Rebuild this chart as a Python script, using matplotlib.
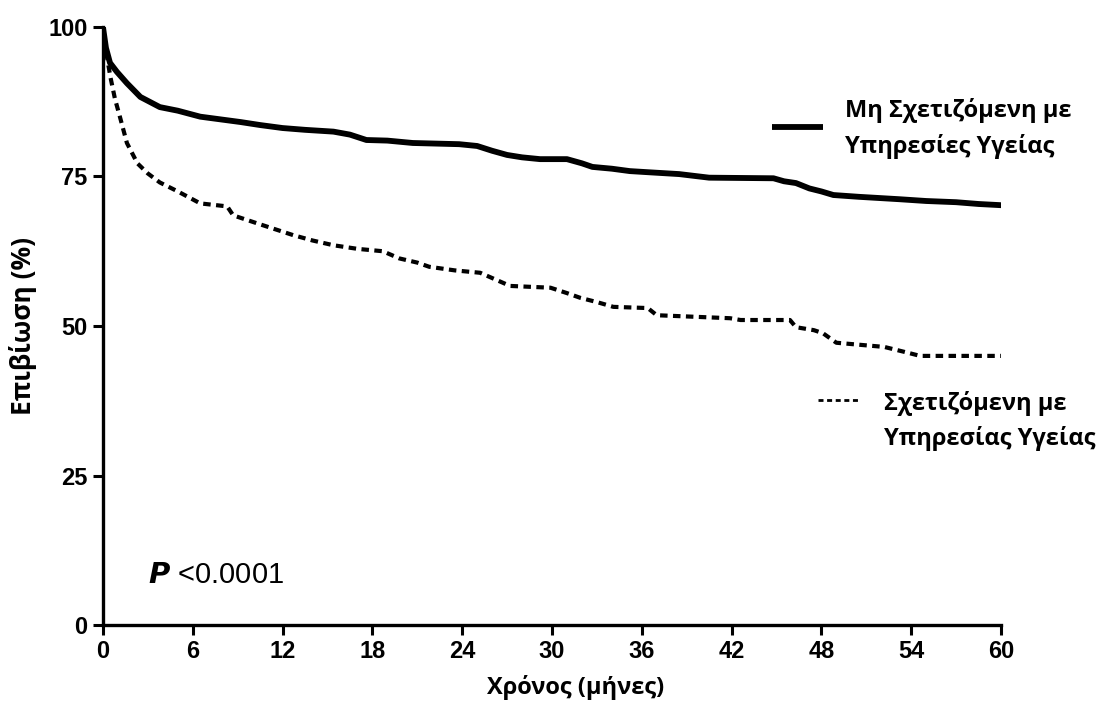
import numpy as np
import matplotlib
matplotlib.use('Agg')
import matplotlib.pyplot as plt

# χρόνος (μήνες) και επιβίωση (%) - διαβασμένα από την εικόνα
t_non = [0, 0.2, 0.47, 0.93, 1.6, 2.5, 3.8, 5.0, 6.5, 8.0, 9.2, 10.5, 12, 13.5, 15.4,
         16.5, 17.6, 19.0, 20.7, 23.8, 25, 26, 27, 28, 29.2, 31, 32, 32.7, 34, 35.2,
         36.5, 38.5, 39.5, 40.5, 44.8, 45.5, 46.3, 47.2, 48, 48.8, 50.5, 53.2, 55, 57, 58.5, 60]
s_non = [100, 96.5, 94, 92.5, 90.6, 88.3, 86.6, 86.0, 85, 84.5, 84.1, 83.6, 83.1, 82.8, 82.5,
         82.0, 81.1, 81.0, 80.6, 80.4, 80.1, 79.3, 78.6, 78.2, 77.9, 77.9, 77.2, 76.6, 76.3, 75.9,
         75.7, 75.4, 75.1, 74.8, 74.7, 74.2, 73.9, 73.0, 72.5, 71.9, 71.6, 71.2, 70.9, 70.7, 70.4, 70.2]

t_rel = [0, 0.2, 0.5, 0.8, 1.13, 1.6, 2.3, 3.0, 3.8, 5.0, 6.5, 8.3, 8.7, 10.5, 12.7, 14,
         15.4, 17, 18.7, 19.8, 21.0, 21.8, 23.5, 25.2, 26.2, 27.2, 29.9, 31.0, 31.9, 33, 34.1,
         36.4, 37, 41.9, 42.6, 45.9, 46.3, 47.5, 48.1, 49, 52.2, 53.5, 54.6, 60]
s_rel = [100, 96, 91.6, 88, 85, 80.6, 77.2, 75.5, 74, 72.5, 70.5, 70, 68.5, 67, 65.2, 64.3,
         63.5, 62.9, 62.5, 61.3, 60.6, 59.9, 59.3, 58.9, 57.8, 56.7, 56.4, 55.5, 54.7, 54.0, 53.2,
         53, 51.8, 51.3, 51.0, 51.0, 49.8, 49.3, 48.8, 47.2, 46.5, 45.7, 45.0, 45.0]

xticks = [0, 6, 12, 18, 24, 30, 36, 42, 48, 54, 60]
yticks = [0, 25, 50, 75, 100]

label_non = 'Μη Σχετιζόμενη με\nΥπηρεσίες Υγείας'
label_rel = 'Σχετιζόμενη με\nΥπηρεσίας Υγείας'

greek = ['Open Sans', 'Noto Sans', 'DejaVu Sans']
num_font = ['Liberation Sans Narrow', 'Liberation Sans', 'DejaVu Sans']

fig = plt.figure(figsize=(11, 7.06), dpi=100)
ax = fig.add_axes([0.0936, 0.1147, 0.8164, 0.8471])

ax.plot(t_non, s_non, color='black', lw=4.2, solid_joinstyle='round')
ax.plot(t_rel, s_rel, color='black', lw=3.0, dashes=(1.8, 1.3))

ax.set_xlim(0, 60)
ax.set_ylim(0, 100)
ax.set_xticks(xticks)
ax.set_yticks(yticks)
for s in ['top', 'right']:
    ax.spines[s].set_visible(False)
for s in ['left', 'bottom']:
    ax.spines[s].set_linewidth(2.4)
ax.tick_params(width=2.2, length=7, direction='out', pad=4)
for lab in ax.get_xticklabels() + ax.get_yticklabels():
    lab.set_family(num_font)
    lab.set_fontweight('bold')
    lab.set_fontsize(17)

ax.set_xlabel('Χρόνος (μήνες)', family=greek, fontweight='bold', fontsize=17)
ax.set_ylabel('Επιβίωση (%)', family=greek, fontweight='bold', fontsize=19)
ax.xaxis.set_label_coords(0.526, -0.083)
ax.yaxis.set_label_coords(-0.073, 0.5)

# υπόμνημα
ax.plot([44.7, 48.1], [83.3, 83.3], color='black', lw=4.2, solid_capstyle='butt', clip_on=False)
ax.text(49.6, 83.0, label_non, family=greek, fontweight='bold', fontsize=17,
        va='center', ha='left', linespacing=1.55)
ax.plot([47.8, 50.6], [37.6, 37.6], color='black', lw=2.0, dashes=(1.8, 1.3), clip_on=False)
ax.text(52.2, 34.1, label_rel, family=greek, fontweight='bold', fontsize=17,
        va='center', ha='left', linespacing=1.55)

ax.text(3.0, 8.4, r'$\bfit{P}$ <0.0001', family=['Liberation Sans', 'DejaVu Sans'],
        fontsize=21, va='center', ha='left')

fig.savefig('out.png', dpi=100)
